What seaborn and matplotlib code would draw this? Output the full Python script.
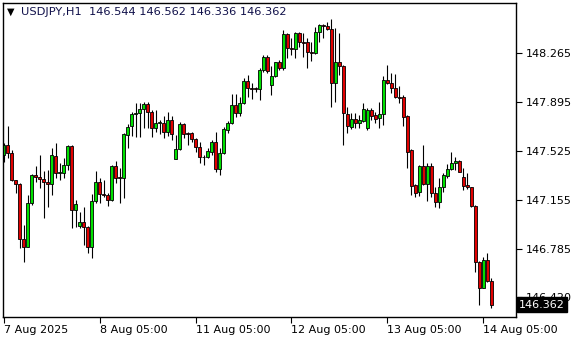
import numpy as np
import pandas as pd
import matplotlib
matplotlib.use("Agg")
import matplotlib.pyplot as plt
import matplotlib.transforms as mtransforms
import seaborn as sns

# ---- data (USDJPY, H1) ----
opens = [147.492, 147.568, 147.505, 147.301, 147.271, 146.856, 146.800, 147.128, 147.341, 147.328,
         147.309, 147.286, 147.271, 147.485, 147.354, 147.354, 147.417, 147.560, 147.075, 146.956,
         146.986, 146.946, 146.795, 147.145, 147.286, 147.200, 147.190, 147.152, 147.409, 147.326,
         147.316, 147.643, 147.711, 147.802, 147.812, 147.840, 147.875, 147.815, 147.699, 147.732,
         147.736, 147.666, 147.754, 147.464, 147.535, 147.724, 147.661, 147.656, 147.611, 147.550,
         147.479, 147.475, 147.517, 147.593, 147.384, 147.505, 147.679, 147.732, 147.870, 147.807,
         147.883, 148.051, 147.996, 147.996, 147.991, 148.134, 148.235, 148.021, 148.089, 148.197,
         148.147, 148.404, 148.298, 148.291, 148.411, 148.348, 148.343, 148.268, 148.260, 148.419,
         148.474, 148.467, 148.442, 148.034, 148.197, 148.162, 147.800, 147.706, 147.762, 147.732,
         147.751, 147.699, 147.832, 147.794, 147.769, 147.800, 148.059, 148.038, 147.996, 147.928,
         147.928, 147.787, 147.530, 147.263, 147.215, 147.409, 147.273, 147.409, 147.203, 147.140,
         147.248, 147.336, 147.384, 147.430, 147.447, 147.324, 147.263, 147.251, 147.109, 146.686,
         146.490, 146.697, 146.544]
highs = [147.581, 147.711, 147.530, 147.303, 147.278, 146.964, 147.190, 147.347, 147.409, 147.492,
         147.371, 147.379, 147.547, 147.581, 147.430, 147.467, 147.568, 147.568, 147.152, 147.064,
         147.102, 146.956, 147.196, 147.371, 147.316, 147.303, 147.203, 147.417, 147.447, 147.396,
         147.656, 147.724, 147.819, 147.883, 147.887, 147.895, 147.895, 147.832, 147.832, 147.757,
         147.787, 147.815, 147.787, 147.643, 147.744, 147.732, 147.668, 147.668, 147.618, 147.593,
         147.492, 147.543, 147.606, 147.668, 147.543, 147.706, 147.749, 147.951, 147.951, 147.933,
         148.072, 148.097, 148.034, 148.008, 148.147, 148.248, 148.248, 148.165, 148.197, 148.210,
         148.436, 148.411, 148.374, 148.424, 148.421, 148.411, 148.374, 148.348, 148.461, 148.479,
         148.482, 148.499, 148.517, 148.449, 148.411, 148.172, 147.857, 147.807, 147.807, 147.794,
         147.883, 147.845, 147.845, 147.819, 147.895, 148.089, 148.172, 148.109, 148.104, 148.013,
         147.946, 147.794, 147.535, 147.273, 147.417, 147.568, 147.430, 147.430, 147.248, 147.316,
         147.354, 147.424, 147.513, 147.479, 147.455, 147.392, 147.354, 147.254, 147.112, 146.689,
         146.724, 146.750, 146.562]
lows = [147.442, 147.472, 147.296, 147.208, 146.792, 146.686, 146.795, 147.115, 147.286, 147.245,
        147.014, 147.102, 147.190, 147.316, 147.303, 147.316, 147.379, 146.939, 146.951, 146.943,
        146.813, 146.750, 146.717, 147.128, 147.128, 147.177, 147.109, 147.145, 147.278, 147.128,
        147.165, 147.543, 147.636, 147.631, 147.631, 147.694, 147.694, 147.631, 147.668, 147.651,
        147.623, 147.636, 147.606, 147.460, 147.530, 147.618, 147.568, 147.593, 147.517, 147.430,
        147.417, 147.467, 147.492, 147.366, 147.341, 147.500, 147.661, 147.726, 147.782, 147.787,
        147.878, 147.933, 147.913, 147.966, 147.908, 148.121, 148.109, 147.946, 148.084, 148.134,
        148.134, 148.225, 148.248, 148.223, 148.310, 148.235, 148.147, 148.205, 148.258, 148.348,
        148.374, 148.436, 147.853, 147.895, 148.097, 147.568, 147.656, 147.686, 147.694, 147.694,
        147.744, 147.681, 147.757, 147.732, 147.694, 147.719, 148.029, 147.958, 147.921, 147.883,
        147.711, 147.392, 147.190, 147.173, 147.185, 147.266, 147.147, 147.177, 147.097, 147.090,
        147.211, 147.316, 147.379, 147.379, 147.362, 147.228, 147.236, 147.102, 146.611, 146.359,
        146.488, 146.535, 146.336]
closes = [147.568, 147.505, 147.301, 147.271, 146.856, 146.800, 147.128, 147.341, 147.324, 147.309,
          147.286, 147.271, 147.492, 147.359, 147.364, 147.417, 147.560, 147.075, 147.120, 146.986,
          146.946, 146.795, 147.145, 147.286, 147.196, 147.190, 147.152, 147.412, 147.321, 147.321,
          147.649, 147.706, 147.800, 147.812, 147.838, 147.875, 147.815, 147.699, 147.732, 147.744,
          147.666, 147.754, 147.651, 147.535, 147.724, 147.651, 147.651, 147.611, 147.550, 147.475,
          147.475, 147.525, 147.593, 147.384, 147.505, 147.689, 147.736, 147.870, 147.807, 147.883,
          148.051, 147.996, 147.989, 147.991, 148.134, 148.235, 148.127, 148.089, 148.197, 148.147,
          148.404, 148.298, 148.291, 148.411, 148.348, 148.336, 148.268, 148.260, 148.424, 148.474,
          148.467, 148.442, 148.034, 148.197, 148.162, 147.807, 147.709, 147.762, 147.732, 147.757,
          147.838, 147.832, 147.789, 147.764, 147.800, 148.059, 148.038, 147.996, 147.928, 147.925,
          147.782, 147.517, 147.260, 147.208, 147.409, 147.273, 147.409, 147.203, 147.140, 147.248,
          147.341, 147.387, 147.430, 147.447, 147.366, 147.260, 147.251, 147.109, 146.686, 146.490,
          146.697, 146.543, 146.362]

time_tick_bars = [0, 24, 48, 72, 96, 120]
time_tick_labels = ["7 Aug 2025", "8 Aug 05:00", "11 Aug 05:00", "12 Aug 05:00",
                    "13 Aug 05:00", "14 Aug 05:00"]
price_ticks = [148.265, 147.895, 147.525, 147.155, 146.785, 146.420]
header_text = "USDJPY,H1  146.544 146.562 146.336 146.362"
last_price = 146.362

# ---- style ----
sns.set_theme(style="white")
plt.rcParams['font.family'] = ['DejaVu Sans']

W, H = 580, 340
fig = plt.figure(figsize=(W / 100, H / 100), dpi=100)
fig.patch.set_facecolor("white")
ax = fig.add_axes([3 / W, 23 / H, 513 / W, 314 / H])
ax.set_facecolor("white")

df = pd.DataFrame({"o": opens, "h": highs, "l": lows, "c": closes})
df["x"] = np.arange(len(df))
df["up"] = df["c"] > df["o"]

ax.vlines(df["x"], df["l"], df["h"], color="black", lw=0.8, zorder=1)
for is_up, col in [(True, "#00e000"), (False, "#e00000")]:
    sub = df[df["up"] == is_up]
    ax.bar(sub["x"], sub["c"] - sub["o"], bottom=sub["o"], width=0.72,
           color=col, edgecolor="black", linewidth=0.6, zorder=2)

ax.set_xlim(-0.2, 128.2)
ax.set_ylim(146.269, 148.640)

for s in ax.spines.values():
    s.set_color("black")
    s.set_linewidth(1.0)

ax.yaxis.tick_right()
ax.set_yticks(price_ticks)
ax.set_yticklabels([f"{p:.3f}" for p in price_ticks])
ax.tick_params(axis="y", direction="out", length=4, width=0.8, color="black",
               labelsize=8, labelcolor="black", pad=3, right=True, left=False)

ax.set_xticks(time_tick_bars)
ax.set_xticklabels(time_tick_labels)
ax.tick_params(axis="x", direction="out", length=4, width=0.8, color="black",
               labelsize=8, labelcolor="black", pad=2, bottom=True)
for lab in ax.get_xticklabels():
    lab.set_horizontalalignment("left")

# last price box
trans = mtransforms.blended_transform_factory(ax.transAxes, ax.transData)
ax.text(1.0 + 3 / 513, last_price, f"{last_price:.3f}", transform=trans,
        ha="left", va="center", fontsize=8, color="white", zorder=10, clip_on=False,
        bbox=dict(boxstyle="square,pad=0.2", facecolor="black", edgecolor="black"))

# header
fig.text(7 / W, 1 - 12 / H, "▼", fontsize=7, color="black", ha="left", va="center")
fig.text(21 / W, 1 - 12 / H, header_text, fontsize=8.2, color="#10104a", ha="left", va="center")

fig.savefig("out.png", dpi=100)
